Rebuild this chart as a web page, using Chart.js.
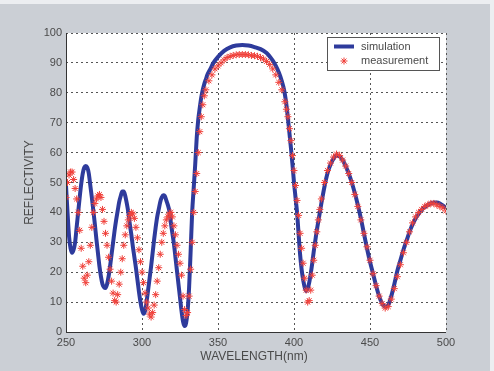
<!DOCTYPE html>
<html>
<head>
<meta charset="utf-8">
<script src="https://cdn.jsdelivr.net/npm/chart.js@4/dist/chart.umd.min.js"></script>
<style>
  html, body { margin: 0; padding: 0; background: #cbcfd5; }
  #wrap { position: relative; width: 494px; height: 371px; }
</style>
</head>
<body>
<div id="wrap"><canvas id="reflectivity-chart" width="494" height="371"></canvas></div>
<script>
// simulated reflectivity (nm, %)
const simWavelength = [
  250, 251, 252, 253, 254, 255, 256, 257, 258, 259, 260, 261, 262, 263, 264, 265, 266, 267, 268, 269,
  270, 271, 272, 273, 274, 275, 276, 277, 278, 279, 280, 281, 282, 283, 284, 285, 286, 287, 288, 289,
  290, 291, 292, 293, 294, 295, 296, 297, 298, 299, 300, 301, 302, 303, 304, 305, 306, 307, 308, 309,
  310, 311, 312, 313, 314, 315, 316, 317, 318, 319, 320, 321, 322, 323, 324, 325, 326, 327, 328, 329,
  330, 331, 332, 333, 334, 335, 336, 337, 338, 339, 340, 341, 342, 343, 345, 347, 350, 354, 358, 362,
  366, 370, 374, 378, 382, 385, 387, 389, 391, 393, 394, 395, 396, 397, 398, 399, 400, 401, 402, 403,
  404, 405, 406, 407, 408, 409, 410, 411, 412, 413, 414, 415, 416, 417, 418, 420, 422, 424, 426, 428,
  430, 432, 434, 436, 438, 440, 442, 444, 446, 448, 450, 452, 454, 456, 458, 460, 462, 464, 466, 468,
  470, 472, 474, 476, 478, 480, 482, 484, 486, 488, 490, 492, 494, 496, 498, 500
];
const simReflectivity = [
  49, 40, 32, 28, 26.5, 27.5, 30, 35, 40, 45, 49.5, 53, 55, 55.5, 55, 53, 49, 45, 40.5, 36,
  31, 26.5, 22, 18.5, 16, 15, 14.7, 16, 18.5, 22, 26, 30, 34, 37.5, 40.5, 43.5, 45.5, 47, 47, 45.5,
  43, 40, 36, 32.5, 28.5, 25, 21.5, 17.5, 13.5, 10, 7.5, 6.1, 7, 10, 14, 18, 22, 26.5, 31, 35,
  38.5, 41, 43.5, 45, 45.7, 45.5, 44, 42.5, 40.5, 36.5, 33, 29.5, 25, 20.5, 16, 11.5, 7, 3.5, 2, 3,
  7, 15, 27, 40, 48, 56, 65, 71, 75, 78.5, 81, 83, 84.5, 86, 88, 90, 92, 94, 95.2, 95.8,
  96, 95.8, 95.3, 94.6, 93.3, 91.5, 90, 88, 85.5, 82, 79.5, 76, 71.5, 66.5, 61.5, 56, 50, 45, 40, 33,
  26, 21, 17.5, 15, 13.7, 14.5, 16.5, 19.5, 23, 27, 30.5, 34, 37, 40, 43, 48.5, 53, 56, 58, 59,
  58.7, 57.5, 55.5, 53, 50, 46.5, 42.5, 38, 33, 28, 23.5, 19.5, 15.5, 12, 9.5, 8.5, 9, 12, 16, 20.5,
  24, 27.5, 30.5, 33.5, 36, 38, 39.5, 40.8, 41.8, 42.5, 43, 43.3, 43.3, 43, 42.3, 41.5
];

// measured reflectivity (nm, %)
const measWavelength = [
  250, 251, 252, 253, 254, 255, 256, 257, 258, 259, 260, 261, 262, 263, 264, 265, 266, 267, 268, 269,
  270, 271, 272, 273, 274, 275, 276, 277, 278, 279, 280, 281, 282, 283, 284, 285, 286, 287, 288, 289,
  290, 291, 292, 293, 294, 295, 296, 297, 298, 299, 300, 301, 302, 303, 304, 305, 306, 307, 308, 309,
  310, 311, 312, 313, 314, 315, 316, 317, 318, 319, 320, 321, 322, 323, 324, 325, 326, 327, 328, 329,
  330, 331, 332, 333, 334, 335, 336, 337, 338, 339, 340, 341, 342, 344, 346, 348, 350, 352, 354, 356,
  358, 360, 362, 364, 366, 368, 370, 372, 374, 376, 378, 380, 382, 384, 386, 388, 390, 392, 394, 395,
  396, 397, 398, 399, 400, 401, 402, 403, 404, 405, 406, 407, 408, 409, 410, 411, 412, 413, 414, 415,
  416, 417, 418, 420, 422, 424, 426, 428, 430, 432, 434, 436, 438, 440, 442, 444, 446, 448, 450, 452,
  454, 456, 458, 460, 462, 464, 466, 468, 470, 472, 474, 476, 478, 480, 482, 484, 486, 488, 490, 492,
  494, 496, 498, 500
];
const measReflectivity = [
  45, 50, 52.5, 53.5, 53.5, 51, 48, 44.5, 40, 34, 28, 22, 18, 16.5, 19, 23.5, 29, 35, 40, 43,
  44.5, 45.5, 46, 45, 41, 37, 33, 29, 25, 21, 17, 13, 10.5, 10, 12.5, 16, 20, 24.5, 29, 32.5,
  35.5, 37.5, 39, 40, 39.5, 38, 35, 31.5, 27.5, 23.5, 20, 16.5, 13, 10, 8, 6, 5, 6.5, 9, 12.5,
  17, 21.5, 26, 30, 33, 35.5, 37.5, 38.5, 39.5, 40, 38.5, 35.5, 32.5, 29, 26, 23, 19, 12, 7.5, 5.5,
  6.5, 12, 21, 30, 40, 47, 53, 60, 67, 72, 76, 79, 81, 84, 86, 88, 89, 90, 91, 91.8,
  92.2, 92.5, 92.7, 92.8, 92.8, 92.8, 92.7, 92.5, 92.4, 92.2, 91.8, 91.3, 90.5, 89.5, 88, 86, 83.5, 81, 77, 74.5,
  72, 68, 64, 59, 54, 49, 44, 39, 33, 28, 23, 18, 14, 10, 10.5, 14, 19, 24, 29, 33.5,
  37.5, 41, 44.5, 50, 54, 56.5, 58.5, 59.5, 59, 57.5, 55.5, 53, 50, 46, 42, 37.5, 33, 28.5, 24, 19.5,
  15.5, 12, 9.5, 8, 8.5, 11, 14.5, 18.5, 22.5, 26.5, 30, 33.5, 36.5, 38.5, 40, 41, 42, 42.5, 43, 43,
  42.5, 42, 41.5, 40.5
];

const xTicks = [250, 300, 350, 400, 450, 500];
const yTicks = [0, 10, 20, 30, 40, 50, 60, 70, 80, 90, 100];

const BLUE = '#2e3b9c';
const RED = '#f0403a';
const TEXT = '#4a4a4a';
const FONT = '"Liberation Sans", Arial, sans-serif';

function drawAsterisk(c, x, y, r) {
  const d = r * 0.7;
  c.beginPath();
  c.moveTo(x - r, y); c.lineTo(x + r, y);
  c.moveTo(x, y - r); c.lineTo(x, y + r);
  c.moveTo(x - d, y - d); c.lineTo(x + d, y + d);
  c.moveTo(x - d, y + d); c.lineTo(x + d, y - d);
  c.stroke();
}

// frame, axis titles and legend in the MATLAB look
const matlabFrame = {
  id: 'matlabFrame',
  beforeDraw(chart) {
    const c = chart.ctx;
    c.save();
    c.fillStyle = '#cbcfd5';
    c.fillRect(0, 0, chart.width, chart.height);
    c.fillStyle = '#eceef1';
    c.fillRect(0, 0, chart.width, 4);
    c.fillRect(chart.width - 4, 0, 4, chart.height);
    const a = chart.chartArea;
    c.fillStyle = '#ffffff';
    c.fillRect(a.left, a.top, a.right - a.left, a.bottom - a.top);
    c.restore();
  },
  afterDraw(chart) {
    const c = chart.ctx;
    const a = chart.chartArea;
    c.save();
    c.fillStyle = TEXT;
    c.font = '12px ' + FONT;
    c.textAlign = 'center';
    c.textBaseline = 'middle';
    c.fillText('WAVELENGTH(nm)', (a.left + a.right) / 2 - 2, 357);
    c.translate(30, (a.top + a.bottom) / 2);
    c.rotate(-Math.PI / 2);
    c.fillText('REFLECTIVITY', 0, 0);
    c.restore();

    // solid axis lines on the left and bottom
    c.save();
    c.strokeStyle = '#333';
    c.lineWidth = 1;
    c.beginPath();
    c.moveTo(a.left + 0.5, a.top);
    c.lineTo(a.left + 0.5, a.bottom + 0.5);
    c.lineTo(a.right, a.bottom + 0.5);
    c.stroke();
    c.restore();

    // legend box
    const lx = 327, ly = 37, lw = 112, lh = 33;
    c.save();
    c.fillStyle = '#ffffff';
    c.fillRect(lx, ly, lw, lh);
    c.strokeStyle = '#555';
    c.lineWidth = 1;
    c.strokeRect(lx + 0.5, ly + 0.5, lw, lh);
    const ds = chart.data.datasets;
    c.strokeStyle = BLUE;
    c.lineWidth = 4;
    c.beginPath();
    c.moveTo(334, 46.5);
    c.lineTo(354, 46.5);
    c.stroke();
    c.strokeStyle = RED;
    c.lineWidth = 1;
    drawAsterisk(c, 344, 61, 3.5);
    c.fillStyle = TEXT;
    c.font = '11px ' + FONT;
    c.textAlign = 'left';
    c.textBaseline = 'middle';
    c.fillText(ds[0].label, 361, 46.5);
    c.fillText(ds[1].label, 361, 61);
    c.restore();
  }
};

const ctx = document.getElementById('reflectivity-chart');

new Chart(ctx, {
  type: 'scatter',
  data: {
    datasets: [
      {
        label: 'simulation',
        data: simWavelength.map((x, i) => ({ x: x, y: simReflectivity[i] })),
        showLine: true,
        borderColor: BLUE,
        borderWidth: 4,
        pointRadius: 0,
        cubicInterpolationMode: 'monotone',
        order: 2
      },
      {
        label: 'measurement',
        data: measWavelength.map((x, i) => ({ x: x, y: measReflectivity[i] })),
        showLine: false,
        pointStyle: 'star',
        pointRadius: 3.5,
        borderWidth: 1,
        borderColor: RED,
        backgroundColor: RED,
        order: 1
      }
    ]
  },
  options: {
    responsive: false,
    animation: false,
    layout: { padding: { top: 33, right: 48, bottom: 0, left: 0 } },
    plugins: {
      legend: { display: false },
      tooltip: { enabled: false }
    },
    scales: {
      x: {
        type: 'linear',
        min: 250,
        max: 500,
        afterFit(scale) { scale.height = 39; },
        afterBuildTicks(scale) { scale.ticks = xTicks.map(v => ({ value: v })); },
        grid: {
          color: '#555',
          lineWidth: 1,
          drawTicks: false
        },
        border: { display: false, dash: [2, 3] },
        ticks: {
          color: TEXT,
          font: { family: FONT, size: 11 },
          padding: 4,
          maxRotation: 0
        }
      },
      y: {
        min: 0,
        max: 100,
        afterFit(scale) { scale.width = 66; },
        afterBuildTicks(scale) { scale.ticks = yTicks.map(v => ({ value: v })); },
        grid: {
          color: '#555',
          lineWidth: 1,
          drawTicks: false
        },
        border: { display: false, dash: [2, 3] },
        ticks: {
          color: TEXT,
          font: { family: FONT, size: 11 },
          padding: 4
        }
      }
    }
  },
  plugins: [matlabFrame]
});
</script>
</body>
</html>
